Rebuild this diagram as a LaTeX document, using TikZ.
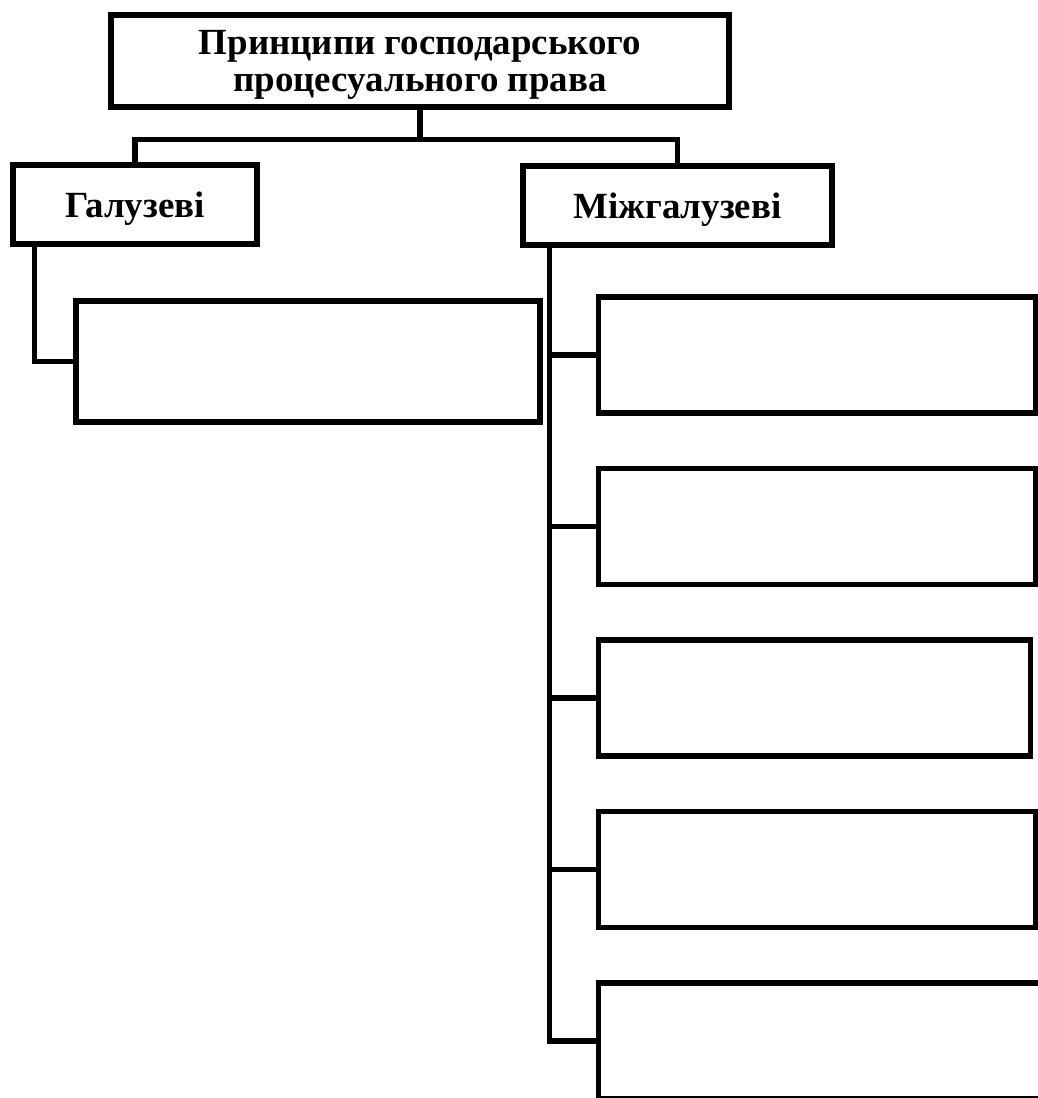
\documentclass[tikz,border=0pt]{standalone}
\usepackage{fontspec}
\setmainfont{Liberation Serif}
\usetikzlibrary{positioning}

\begin{document}
\begin{tikzpicture}[
    box/.style={draw, line width=3pt, inner sep=0pt, align=center, text depth=0pt},
    title/.style={box, minimum width=12.36cm, minimum height=1.84cm},
    group/.style={box, minimum height=1.58cm},
    item/.style={box, anchor=west, minimum height=2.32cm},
    link/.style={line width=3pt},
    font=\fontsize{21}{21.5}\selectfont\bfseries,
]
\useasboundingbox (0,0) rectangle (20.76,-21.96);
\clip (0,0) rectangle (20.76,-21.96);

% --- Root ---
\node[title] (root) at (8.4,-1.22) {Принципи господарського\\процесуального права};

% --- Two groups ---
\node[group, minimum width=4.88cm] (galuz) at (2.7,-4.09) {Галузеві};
\node[group, minimum width=6.18cm] (mizh) at (13.55,-4.11) {Міжгалузеві};

\draw[link] (root.south) -- ++(0,-0.6) coordinate (fork);
\draw[link] (fork) -| (galuz.north);
\draw[link] (fork) -| (mizh.north);

% --- Left branch ---
\node[box, minimum width=9.28cm, minimum height=2.42cm] (lbox) at (6.16,-7.23) {};
\draw[link] ([xshift=0.48cm]galuz.south west) |- (lbox.west);

% --- Right branch ---
\foreach \i/\w in {1/8.74, 2/8.74, 3/8.64, 4/8.74, 5/9.6} {
    \node[item, minimum width=\w cm] (m\i) at (11.92, {-7.10-3.43*(\i-1)}) {};
}
\draw[link] ([xshift=0.58cm]mizh.south west) coordinate (trunk) |- (m5.west);
\foreach \i in {1,...,4} {
    \draw[link] (m\i.west -| trunk) -- (m\i.west);
}

\end{tikzpicture}
\end{document}
